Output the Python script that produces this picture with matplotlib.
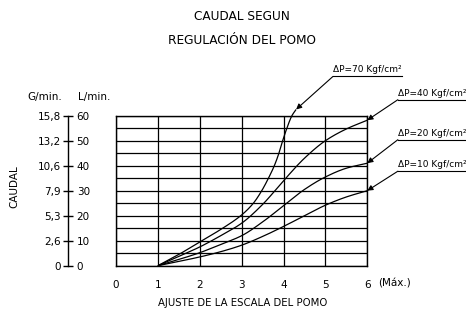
import numpy as np
import matplotlib
matplotlib.use("Agg")
import matplotlib.pyplot as plt
from matplotlib.lines import Line2D
from matplotlib.transforms import offset_copy, blended_transform_factory

plt.rcParams['font.family'] = ['DejaVu Sans']

# ---- data ----
x_70 = [1, 1.5, 2, 2.5, 3, 3.28, 3.48, 3.64, 3.78, 3.88, 3.97, 4.08, 4.2, 4.3]
y_70 = [0, 4.5, 9.5, 14.5, 20.3, 25, 30, 35, 40, 44.5, 49.5, 55, 60, 62.5]
x_std = [1, 1.5, 2, 2.5, 3, 3.5, 4, 4.5, 5, 5.5, 6]
y_40 = [0, 3.7, 7.5, 12, 17, 24.5, 34, 43, 50, 54.7, 58.2]
y_20 = [0, 2.5, 5.2, 8.5, 12, 17.5, 24, 30.5, 35.5, 39, 41]
y_10 = [0, 1.7, 3.5, 5.6, 8.2, 11.7, 15.7, 20, 24.2, 27.5, 30]
labels = ["ΔP=70 Kgf/cm²", "ΔP=40 Kgf/cm²", "ΔP=20 Kgf/cm²", "ΔP=10 Kgf/cm²"]
lmin_ticks = [0, 10, 20, 30, 40, 50, 60]
gmin_labels = ["0", "2,6", "5,3", "7,9", "10,6", "13,2", "15,8"]
x_ticks = [0, 1, 2, 3, 4, 5, 6]

series = [(x_70, y_70), (x_std, y_40), (x_std, y_20), (x_std, y_10)]
# label anchor positions (layout, data coords)
label_pos = [(5.18, 75.7), (6.73, 66.4), (6.73, 50.4), (6.73, 37.8)]

W, H = 466, 320
fig = plt.figure(figsize=(W / 100, H / 100), dpi=100)

left_px, right_px, top_px, bot_px = 116, 367.3, 115.7, 265.7
ax = fig.add_axes([left_px / W, 1 - bot_px / H, (right_px - left_px) / W, (bot_px - top_px) / H])
ax.set_xlim(0, 6)
ax.set_ylim(0, 60)
ax.set_xticks(x_ticks)
ax.set_yticks(np.arange(0, 61, 5))
ax.grid(True, color='black', lw=0.9)
ax.tick_params(axis='both', length=0, labelsize=7.5)
ax.tick_params(axis='y', labelleft=False)
ax.tick_params(axis='x', pad=10)
for s in ax.spines.values():
    s.set_linewidth(1.0)


def pchip(xs, ys, n=30):
    """Monotone cubic Hermite (Fritsch-Carlson) drawing of the read points."""
    x = np.asarray(xs, float); y = np.asarray(ys, float)
    h = np.diff(x); d = np.diff(y) / h
    m = np.zeros_like(x)
    m[0] = d[0]; m[-1] = d[-1]
    for k in range(1, len(x) - 1):
        if d[k - 1] * d[k] <= 0:
            m[k] = 0
        else:
            w1 = 2 * h[k] + h[k - 1]; w2 = h[k] + 2 * h[k - 1]
            m[k] = (w1 + w2) / (w1 / d[k - 1] + w2 / d[k])
    px, py = [], []
    for k in range(len(x) - 1):
        t = np.linspace(0, 1, n, endpoint=False)
        h00 = 2 * t**3 - 3 * t**2 + 1; h10 = t**3 - 2 * t**2 + t
        h01 = -2 * t**3 + 3 * t**2; h11 = t**3 - t**2
        px.append(x[k] + t * h[k])
        py.append(h00 * y[k] + h10 * h[k] * m[k] + h01 * y[k + 1] + h11 * h[k] * m[k + 1])
    px.append([x[-1]]); py.append([y[-1]])
    return np.concatenate(px), np.concatenate(py)


for (xs, ys) in series:
    cx, cy = pchip(xs, ys)
    ax.plot(cx, cy, color='black', lw=0.9, clip_on=False, solid_capstyle='butt')

fig.canvas.draw()
renderer = fig.canvas.get_renderer()
for (xs, ys), lab, (lx, ly) in zip(series, labels, label_pos):
    ax.annotate("", xy=(xs[-1], ys[-1]), xytext=(lx, ly), annotation_clip=False,
                arrowprops=dict(arrowstyle='-|>', color='black', lw=0.8, mutation_scale=8,
                                shrinkA=0, shrinkB=0))
    t = ax.text(lx, ly, lab, transform=offset_copy(ax.transData, fig=fig, x=0, y=2, units='dots'),
                ha='left', va='bottom', fontsize=6.5, clip_on=False)
    bb = t.get_window_extent(renderer)
    x0, y0 = ax.transData.transform((lx, ly))
    fig.add_artist(Line2D([x0 / W, min(bb.x1, W) / W], [y0 / H, y0 / H],
                          transform=fig.transFigure, color='black', lw=0.8))

# "(Máx.)" after 6
ax.text(6, 0, "(Máx.)", transform=offset_copy(blended_transform_factory(ax.transData, ax.transAxes),
                                             fig=fig, x=11, y=-18, units='dots'),
        ha='left', va='center', fontsize=7.5)

# left scale
sh = (bot_px - top_px) / H
sax = fig.add_axes([68.3 / W, 1 - bot_px / H, 0.0001, sh])
sax.set_ylim(0, 60)
sax.set_xticks([])
for k in ['top', 'bottom', 'right']:
    sax.spines[k].set_visible(False)
sax.spines['left'].set_linewidth(1.0)
sax.set_yticks(lmin_ticks)
sax.set_yticklabels(gmin_labels)
sax.tick_params(axis='y', direction='inout', length=7, width=1.0, labelsize=7.5, pad=2)
tax = sax.twinx()
tax.set_ylim(0, 60)
for k in ['top', 'bottom', 'right', 'left']:
    tax.spines[k].set_visible(False)
tax.set_yticks(lmin_ticks)
tax.set_yticklabels([str(v) for v in lmin_ticks])
tax.tick_params(axis='y', length=0, labelsize=7.5, pad=6)

fig.text(27 / W, 1 - 97 / H, "G/min.", fontsize=7.5, ha='left', va='center')
fig.text(78 / W, 1 - 97 / H, "L/min.", fontsize=7.5, ha='left', va='center')
fig.text(14 / W, 1 - 187 / H, "CAUDAL", fontsize=7.5, rotation=90, ha='center', va='center')
fig.text(242 / W, 1 - 17 / H, "CAUDAL SEGUN", fontsize=8.7, ha='center', va='center')
fig.text(242 / W, 1 - 40 / H, "REGULACIÓN DEL POMO", fontsize=8.7, ha='center', va='center')
fig.text(242.7 / W, 1 - 303 / H, "AJUSTE DE LA ESCALA DEL POMO", fontsize=7.3, ha='center', va='center')

fig.savefig("out.png", dpi=100)
